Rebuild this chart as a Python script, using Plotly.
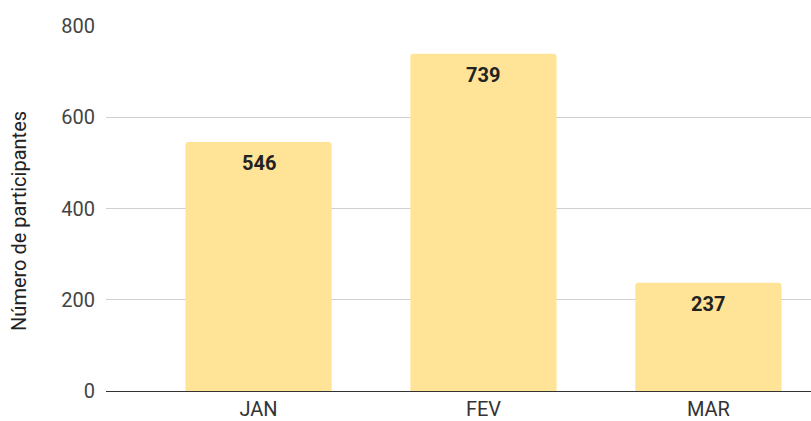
import plotly.graph_objects as go

months = ["JAN", "FEV", "MAR"]
participants = [546, 739, 237]
y_ticks = [0, 200, 400, 600, 800]
y_title = "Número de participantes"

fig = go.Figure(go.Bar(
    x=months, y=participants,
    marker=dict(color="#FFE396", cornerradius=3, line=dict(width=0)),
    width=0.65,
    hoverinfo="x+y",
))

for m, v in zip(months, participants):
    fig.add_annotation(
        x=m, y=v, text=f"<b>{v}</b>", showarrow=False,
        yanchor="middle", yshift=-21,
        font=dict(family="Roboto", size=20, color="#222222"),
    )

fig.add_annotation(
    xref="paper", yref="paper", x=-0.1234, y=0.466,
    text=y_title, textangle=-90, showarrow=False,
    xanchor="center", yanchor="middle",
    font=dict(family="Roboto", size=20, color="#222222"),
)

fig.update_layout(
    width=811, height=421,
    margin=dict(l=106, r=0, t=26, b=30),
    paper_bgcolor="white", plot_bgcolor="white",
    font=dict(family="Roboto", size=20, color="#444444"),
    showlegend=False,
)
fig.update_xaxes(
    range=[-0.678, 2.456], showgrid=False, ticks="", showline=False,
    ticklabelstandoff=4,
    tickfont=dict(size=20, color="#333333"),
)
fig.update_yaxes(
    range=[0, 800], tickvals=y_ticks, showgrid=True, gridcolor="#d0d0d0",
    zeroline=True, zerolinecolor="#333333", zerolinewidth=1.3,
    ticklabelstandoff=10,
    tickfont=dict(size=20, color="#444444"),
)

fig.write_html(
    "out.html",
    config={"displayModeBar": False},
    post_script="document.body.style.margin='0';document.body.style.overflow='hidden';",
)
